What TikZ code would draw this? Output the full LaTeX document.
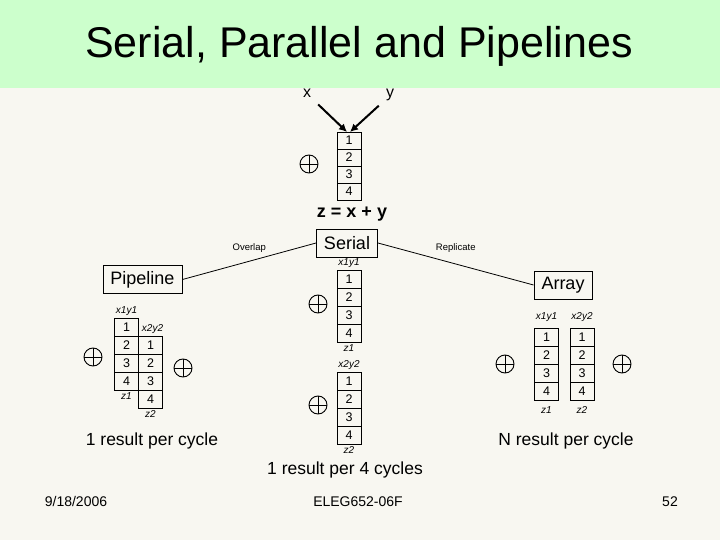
\documentclass[tikz,border=0pt]{standalone}
\usepackage{fontspec}
\setmainfont{Liberation Sans}
\usetikzlibrary{positioning,arrows.meta}

\definecolor{pagebg}{RGB}{248,247,241}
\definecolor{titlebg}{RGB}{204,255,204}

\begin{document}
\begin{tikzpicture}[
    x=1pt, y=1pt,
    node distance=0pt,
    cell/.style={draw, line width=0.9pt, minimum width=24pt, minimum height=18pt, inner sep=0pt, outer sep=0pt, font=\fontsize{12.5}{14}\selectfont},
    topcell/.style={cell, minimum height=17pt},
    tag/.style={inner sep=2.5pt, font=\itshape\fontsize{10}{12}\selectfont},
    modebox/.style={draw, line width=0.9pt, minimum height=28pt, inner xsep=7.5pt, font=\fontsize{18}{22}\selectfont},
    adder/.style={circle, draw, line width=0.9pt, minimum size=18pt, inner sep=0pt,
        path picture={\draw[line width=0.9pt] (path picture bounding box.north) -- (path picture bounding box.south)
            (path picture bounding box.west) -- (path picture bounding box.east);}},
    note/.style={text height=7pt, text depth=2pt, font=\fontsize{9.5}{11}\selectfont},
    result/.style={font=\fontsize{17.5}{20}\selectfont},
    foot/.style={anchor=base, font=\fontsize{14}{16}\selectfont},
    feed/.style={line width=2pt, -{Latex[length=8pt,width=8pt]}, shorten <=5pt}
]

% fond et bandeau du titre
\fill[pagebg] (0,0) rectangle (720,-540);
\fill[titlebg] (0,0) rectangle (720,-88);
\useasboundingbox (0,0) rectangle (720,-540);

\node[font=\fontsize{43}{48}\selectfont] (title) at (359,-46) {Serial, Parallel and Pipelines};

% entrees et unite serie
\node[anchor=base, font=\fontsize{16}{18}\selectfont] (xin) at (307,-98) {x};
\node[anchor=base, font=\fontsize{16}{18}\selectfont] (yin) at (390,-98) {y};

\node[topcell, anchor=north] (top1) at (349,-132) {1};
\node[topcell, below=of top1] (top2) {2};
\node[topcell, below=of top2] (top3) {3};
\node[topcell, below=of top3] (top4) {4};
\node[adder] (topadd) at (309,-164) {};

\draw[feed] (xin) -- ([xshift=-2pt]top1.north);
\draw[feed] (yin) -- ([xshift=1pt]top1.north);

\node[font=\bfseries\fontsize{18}{22}\selectfont] (sum) at (352,-214) {z = x + y};

% les trois modes
\node[modebox] (serial) at (347,-243) {Serial};
\node[modebox] (pipeline) at (142.5,-279.5) {Pipeline};
\node[modebox] (array) at (563,-285) {Array};

\draw[line width=0.8pt] (serial.west) -- (pipeline.east)
    node[midway, above=5pt, note] {Overlap};
\draw[line width=0.8pt] (serial.east) -- (array.west)
    node[midway, above=8pt, note] {Replicate};

% serie : deux operations l'une apres l'autre
\node[cell, anchor=north] (sa1) at (349,-270) {1};
\node[cell, below=of sa1] (sa2) {2};
\node[cell, below=of sa2] (sa3) {3};
\node[cell, below=of sa3] (sa4) {4};
\node[tag, above=of sa1] {x1y1};
\node[tag, below=of sa4] {z1};
\node[adder] (sadd1) at (318,-304) {};

\node[cell, anchor=north] (sb1) at (349,-372) {1};
\node[cell, below=of sb1] (sb2) {2};
\node[cell, below=of sb2] (sb3) {3};
\node[cell, below=of sb3] (sb4) {4};
\node[tag, above=of sb1] {x2y2};
\node[tag, below=of sb4] {z2};
\node[adder] (sadd2) at (318,-405) {};

% pipeline : etages decales
\node[cell, anchor=north] (pa1) at (126.5,-318) {1};
\node[cell, below=of pa1] (pa2) {2};
\node[cell, below=of pa2] (pa3) {3};
\node[cell, below=of pa3] (pa4) {4};
\node[tag, above=of pa1] {x1y1};
\node[tag, below=of pa4] {z1};

\node[cell, anchor=north] (pb1) at (150.5,-336) {1};
\node[cell, below=of pb1] (pb2) {2};
\node[cell, below=of pb2] (pb3) {3};
\node[cell, below=of pb3] (pb4) {4};
\node[tag, above=of pb1, xshift=2pt] {x2y2};
\node[tag, below=of pb4] {z2};

\node[adder] (padd1) at (93,-357) {};
\node[adder] (padd2) at (183,-368) {};

% tableau : deux unites en parallele
\node[cell, anchor=north] (aa1) at (546.5,-328) {1};
\node[cell, below=of aa1] (aa2) {2};
\node[cell, below=of aa2] (aa3) {3};
\node[cell, below=of aa3] (aa4) {4};
\node[tag, above=4pt of aa1] {x1y1};
\node[tag, below=4pt of aa4] {z1};

\node[cell, anchor=north] (ab1) at (582,-328) {1};
\node[cell, below=of ab1] (ab2) {2};
\node[cell, below=of ab2] (ab3) {3};
\node[cell, below=of ab3] (ab4) {4};
\node[tag, above=4pt of ab1] {x2y2};
\node[tag, below=4pt of ab4] {z2};

\node[adder] (aadd1) at (505,-364) {};
\node[adder] (aadd2) at (622,-364) {};

% debits
\node[result] (rpipe) at (152,-441) {1 result per cycle};
\node[result] (rarray) at (566,-441) {N result per cycle};
\node[result] (rserial) at (345,-470) {1 result per 4 cycles};

% pied de page
\node[foot] (date) at (76,-506) {9/18/2006};
\node[foot] (course) at (358,-506) {ELEG652-06F};
\node[foot] (page) at (670,-506) {52};

\end{tikzpicture}
\end{document}
